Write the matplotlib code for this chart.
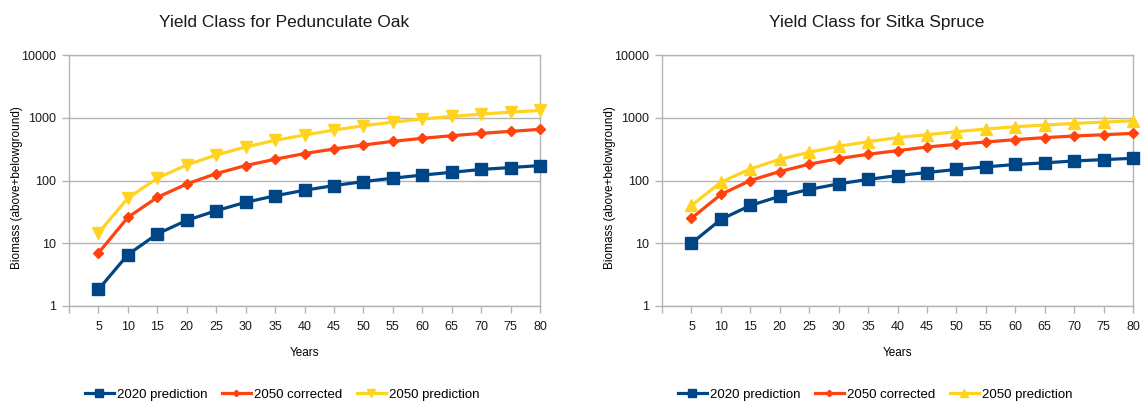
import numpy as np
import matplotlib.pyplot as plt
from matplotlib.ticker import FixedLocator, NullLocator

plt.rcParams['font.family'] = ['Liberation Sans', 'DejaVu Sans']

years = [5, 10, 15, 20, 25, 30, 35, 40, 45, 50, 55, 60, 65, 70, 75, 80]

# Pedunculate Oak
oak_2020 = [1.84, 6.6, 14.1, 23.2, 33, 45, 57, 70, 83, 96, 109, 122, 135, 150, 161, 173]
oak_2050_corr = [7.0, 25.9, 54, 88, 129, 173, 218, 269, 318, 368, 421, 470, 518, 564, 607, 653]
oak_2050 = [14.6, 52.5, 109, 177, 255, 342, 437, 531, 637, 746, 853, 953, 1049, 1143, 1230, 1306]

# Sitka Spruce
spruce_2020 = [10, 24, 40, 56, 72, 88.5, 104, 120, 134, 150, 165, 180, 191, 205, 215, 226]
spruce_2050_corr = [25, 60, 100, 139, 182, 223, 262, 299, 342, 377, 411, 448, 482, 512, 537, 564]
spruce_2050 = [40, 94, 153, 218, 282, 351, 416, 482, 537, 600, 661, 720, 765, 813, 853, 896]

series_names = ['2020 prediction', '2050 corrected', '2050 prediction']
colors = ['#004586', '#ff420e', '#ffd320']
grey = '#b3b3b3'

fig = plt.figure(figsize=(11.47, 4.03), dpi=100)


def draw_panel(left, title, data, top_marker):
    ax = fig.add_axes([left, 0.2407, 0.4106, 0.6228])
    markers = ['s', 'D', top_marker]
    sizes = [8, 5, 8]
    for vals, name, c, m, s in zip(data, series_names, colors, markers, sizes):
        ax.plot(years, vals, color=c, lw=2.3, marker=m, ms=s, mec=c, mfc=c,
                label=name, clip_on=False, zorder=3)
    ax.set_yscale('log')
    ax.set_ylim(1, 10000)
    ax.set_xlim(0, 80)
    ax.yaxis.set_major_locator(FixedLocator([1, 10, 100, 1000, 10000]))
    ax.yaxis.set_minor_locator(NullLocator())
    ax.set_yticklabels(['1', '10', '100', '1000', '10000'])
    ax.set_xticks(np.arange(0, 81, 5))
    ax.set_xticklabels([''] + [str(y) for y in years])
    ax.grid(axis='y', color=grey, lw=1)
    ax.set_axisbelow(True)
    for sp in ax.spines.values():
        sp.set_color(grey)
        sp.set_linewidth(1)
    ax.tick_params(axis='both', length=5, width=1, color=grey,
                   labelsize=9, labelcolor='#1a1a1a', pad=4)
    ax.tick_params(axis='x', pad=6)
    ax.set_xlabel('Years', fontsize=8.5, labelpad=10)
    ax.set_ylabel('Biomass (above+belowground)', fontsize=8.5)
    ax.yaxis.set_label_coords(-0.098, 0.47)
    bb = ax.get_position()
    fig.text(bb.x0 + bb.width / 2 - 0.018, 0.945, title, ha='center',
             va='center', fontsize=12.5, color='#1a1a1a')
    fig.legend(*ax.get_legend_handles_labels(), loc='center',
               bbox_to_anchor=(bb.x0 + bb.width / 2 - 0.0195, 0.02),
               ncol=3, frameon=False, fontsize=9.5, handlelength=2.2,
               handletextpad=0.25, columnspacing=1.1, borderaxespad=0,
               markerscale=0.65)
    return ax


draw_panel(0.0602, 'Yield Class for Pedunculate Oak',
           [oak_2020, oak_2050_corr, oak_2050], 'v')
draw_panel(0.5772, 'Yield Class for Sitka Spruce',
           [spruce_2020, spruce_2050_corr, spruce_2050], '^')

fig.savefig('out.png', dpi=100)
